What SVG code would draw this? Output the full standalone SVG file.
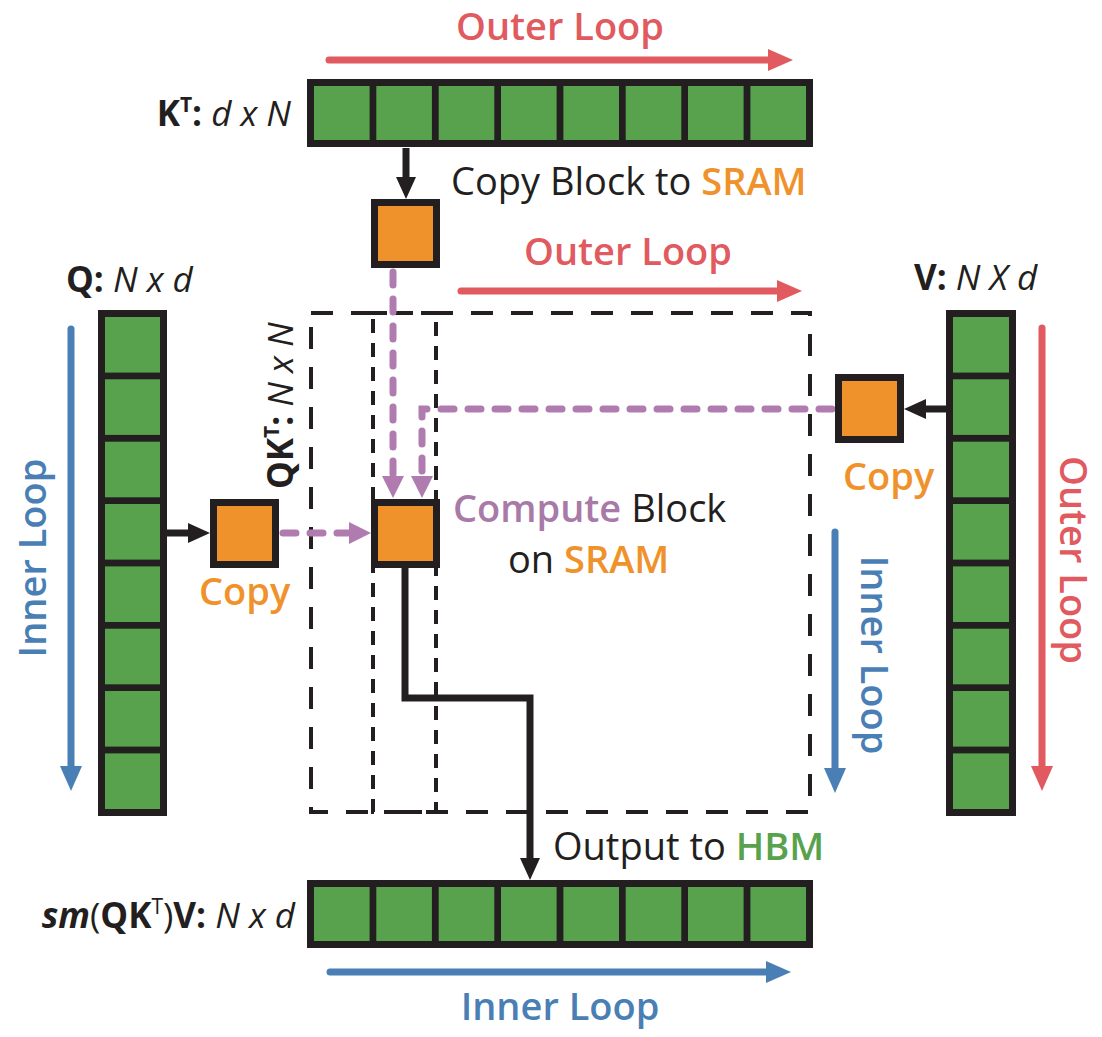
<svg xmlns="http://www.w3.org/2000/svg" width="1102" height="1037" viewBox="0 0 1102 1037">
<style>
text{font-family:"Open Sans","Liberation Sans",sans-serif;}
.lbl{font-size:38px;}
.math{font-size:35px;fill:#231f20;}
.b{font-weight:700;}
.i{font-style:italic;}
.sb{font-weight:600;}
.red{fill:#e05a5f;}
.blue{fill:#4a7fb5;}
.org{fill:#f0922b;}
.pur{fill:#a87aa8;}
.grn{fill:#58a24d;}
.blk{fill:#231f20;}
.frame{fill:#231f20;}
.cell{fill:#58a24d;}
.blockO{fill:#f0922b;stroke:#231f20;stroke-width:7;}
.dashO{fill:none;stroke:#231f20;stroke-width:4;stroke-dasharray:22 18;}
.dashI{fill:none;stroke:#231f20;stroke-width:4;stroke-dasharray:14 10;}
.pl{fill:none;stroke:#b07cb0;stroke-width:7;stroke-dasharray:13 14;stroke-linecap:round;marker-end:url(#mp);}
.bl{fill:none;stroke:#231f20;stroke-width:7;marker-end:url(#mb);}
.rl{fill:none;stroke:#e05a5f;stroke-width:7;stroke-linecap:round;marker-end:url(#mr);}
.ul{fill:none;stroke:#4a7fb5;stroke-width:7;stroke-linecap:round;marker-end:url(#mu);}
</style>
<defs>
<marker id="mr" markerUnits="userSpaceOnUse" markerWidth="26" markerHeight="22" refX="0" refY="11" orient="auto"><path d="M0,0 L25,11 L0,22 z" fill="#e05a5f"/></marker>
<marker id="mu" markerUnits="userSpaceOnUse" markerWidth="26" markerHeight="22" refX="0" refY="11" orient="auto"><path d="M0,0 L25,11 L0,22 z" fill="#4a7fb5"/></marker>
<marker id="mb" markerUnits="userSpaceOnUse" markerWidth="23" markerHeight="20" refX="0" refY="10" orient="auto"><path d="M0,0 L22,10 L0,20 z" fill="#231f20"/></marker>
<marker id="mp" markerUnits="userSpaceOnUse" markerWidth="23" markerHeight="22" refX="0" refY="11" orient="auto"><path d="M0,0 L22,11 L0,22 z" fill="#b07cb0"/></marker>
</defs>

<g id="qkt-region">
<rect class="dashO" x="311" y="313" width="499" height="499"/>
<rect class="dashI" x="373" y="313" width="63" height="499"/>
</g>

<g id="connectors">
<path class="pl" d="M393,272 V476"/>
<path class="pl" d="M832,409 H422 V476"/>
<path class="pl" d="M283,533 H349"/>
<path class="bl" d="M406,148 V177"/>
<path class="bl" d="M167,533 H188"/>
<path class="bl" d="M946,409 H926"/>
<path class="bl" d="M405,568 V698 H530 V858"/>
<path class="rl" d="M329,60 H768"/>
<path class="rl" d="M461,291 H777"/>
<path class="rl" d="M1042,328 V766"/>
<path class="ul" d="M71,329 V766"/>
<path class="ul" d="M835,532 V768"/>
<path class="ul" d="M330,972 H766"/>
</g>

<g id="KT">
<rect class="frame" x="307" y="79" width="506" height="68"/>
<rect class="cell" x="314" y="86" width="55.6" height="54"/>
<rect class="cell" x="376.3" y="86" width="55.6" height="54"/>
<rect class="cell" x="438.7" y="86" width="55.6" height="54"/>
<rect class="cell" x="501" y="86" width="55.6" height="54"/>
<rect class="cell" x="563.4" y="86" width="55.6" height="54"/>
<rect class="cell" x="625.7" y="86" width="55.6" height="54"/>
<rect class="cell" x="688" y="86" width="55.6" height="54"/>
<rect class="cell" x="750.4" y="86" width="55.6" height="54"/>
<text class="math" x="291" y="126" text-anchor="end"><tspan class="b">K</tspan><tspan class="b" font-size="21" dy="-14">T</tspan><tspan class="b" dy="14">: </tspan><tspan class="i">d x N</tspan></text>
</g>

<g id="OUT">
<rect class="frame" x="307" y="880" width="506" height="68"/>
<rect class="cell" x="314" y="887" width="55.6" height="54"/>
<rect class="cell" x="376.3" y="887" width="55.6" height="54"/>
<rect class="cell" x="438.7" y="887" width="55.6" height="54"/>
<rect class="cell" x="501" y="887" width="55.6" height="54"/>
<rect class="cell" x="563.4" y="887" width="55.6" height="54"/>
<rect class="cell" x="625.7" y="887" width="55.6" height="54"/>
<rect class="cell" x="688" y="887" width="55.6" height="54"/>
<rect class="cell" x="750.4" y="887" width="55.6" height="54"/>
<text class="math" x="295" y="928" text-anchor="end"><tspan class="i b">sm</tspan><tspan>(</tspan><tspan class="b">QK</tspan><tspan font-size="21" dy="-14">T</tspan><tspan dy="14">)</tspan><tspan class="b">V: </tspan><tspan class="i">N x d</tspan></text>
</g>

<g id="Q">
<rect class="frame" x="98" y="310" width="69" height="506"/>
<rect class="cell" x="105" y="317" width="55" height="55.6"/>
<rect class="cell" x="105" y="379.3" width="55" height="55.6"/>
<rect class="cell" x="105" y="441.7" width="55" height="55.6"/>
<rect class="cell" x="105" y="504" width="55" height="55.6"/>
<rect class="cell" x="105" y="566.4" width="55" height="55.6"/>
<rect class="cell" x="105" y="628.7" width="55" height="55.6"/>
<rect class="cell" x="105" y="691" width="55" height="55.6"/>
<rect class="cell" x="105" y="753.4" width="55" height="55.6"/>
<text class="math" x="66" y="292"><tspan class="b">Q: </tspan><tspan class="i">N x d</tspan></text>
</g>

<g id="V">
<rect class="frame" x="946" y="310" width="70" height="506"/>
<rect class="cell" x="953" y="317" width="56" height="55.6"/>
<rect class="cell" x="953" y="379.3" width="56" height="55.6"/>
<rect class="cell" x="953" y="441.7" width="56" height="55.6"/>
<rect class="cell" x="953" y="504" width="56" height="55.6"/>
<rect class="cell" x="953" y="566.4" width="56" height="55.6"/>
<rect class="cell" x="953" y="628.7" width="56" height="55.6"/>
<rect class="cell" x="953" y="691" width="56" height="55.6"/>
<rect class="cell" x="953" y="753.4" width="56" height="55.6"/>
<text class="math" x="914" y="290"><tspan class="b">V: </tspan><tspan class="i">N X d</tspan></text>
</g>

<g id="K-block">
<rect class="blockO" x="374.5" y="202.5" width="62" height="62"/>
</g>
<g id="Q-block">
<rect class="blockO" x="213.5" y="502.5" width="62" height="62"/>
<text class="lbl sb org" x="199" y="605">Copy</text>
</g>
<g id="V-block">
<rect class="blockO" x="838.5" y="377.5" width="62" height="62"/>
<text class="lbl sb org" x="843" y="490">Copy</text>
</g>
<g id="compute-block">
<rect class="blockO" x="374.5" y="502.5" width="62" height="62"/>
<text class="lbl blk" x="453" y="522"><tspan class="sb pur">Compute</tspan> Block</text>
<text class="lbl blk" x="508" y="573">on <tspan class="sb org">SRAM</tspan></text>
</g>

<g id="labels">
<text class="lbl sb red" x="560" y="40" text-anchor="middle">Outer Loop</text>
<text class="lbl blk" x="451" y="195">Copy Block to <tspan class="sb org">SRAM</tspan></text>
<text class="lbl sb red" x="628" y="265" text-anchor="middle">Outer Loop</text>
<text class="lbl sb blue" text-anchor="middle" transform="translate(46,558) rotate(-90)">Inner Loop</text>
<text class="math" transform="translate(293,489) rotate(-90)"><tspan class="b">QK</tspan><tspan class="b" font-size="21" dy="-14">T</tspan><tspan class="b" dy="14">: </tspan><tspan class="i">N x N</tspan></text>
<text class="lbl sb red" text-anchor="middle" transform="translate(1060,560) rotate(90)">Outer Loop</text>
<text class="lbl sb blue" text-anchor="middle" transform="translate(861,655) rotate(90)">Inner Loop</text>
<text class="lbl blk" x="553" y="860">Output to <tspan class="sb grn">HBM</tspan></text>
<text class="lbl sb blue" x="560" y="1020" text-anchor="middle">Inner Loop</text>
</g>
</svg>
